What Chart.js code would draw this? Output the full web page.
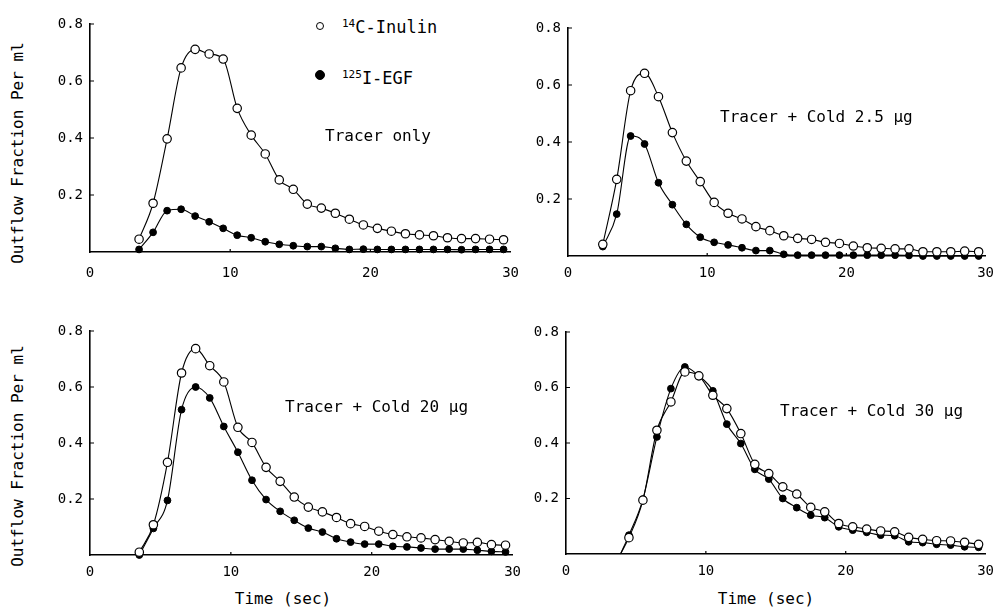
<!DOCTYPE html>
<html><head><meta charset="utf-8">
<script src="https://cdn.jsdelivr.net/npm/chart.js@4.4.0/dist/chart.umd.min.js"></script>
<style>
body{margin:0;background:#fff;width:995px;height:614px;position:relative;overflow:hidden;font-family:"DejaVu Sans Mono",monospace;color:#000}
canvas{position:absolute}
.t{position:absolute;white-space:nowrap;font-size:16px;line-height:1}
.yt{position:absolute;white-space:nowrap;font-size:16px;line-height:1;transform:translate(-50%,-50%) rotate(-90deg)}
.mk{position:absolute;border-radius:50%;box-sizing:border-box;border:1.3px solid #000}
sup{font-size:11px;vertical-align:6px;line-height:0}
</style></head><body>

<div class="yt" style="left:18px;top:153px">Outflow Fraction Per ml</div>
<div class="yt" style="left:18px;top:456px">Outflow Fraction Per ml</div>
<div class="t" style="left:283px;top:599px;transform:translate(-50%,-50%)">Time (sec)</div>
<div class="t" style="left:766px;top:599px;transform:translate(-50%,-50%)">Time (sec)</div>

<div class="mk" style="left:316px;top:22px;width:8px;height:8px;background:#fff"></div>
<div class="t" style="left:342px;top:19px;font-size:17px"><sup>14</sup>C-Inulin</div>
<div class="mk" style="left:315px;top:70px;width:10px;height:10px;background:#000"></div>
<div class="t" style="left:342px;top:70px;font-size:17px"><sup>125</sup>I-EGF</div>

<script>
// time points (sec)
var times1 = [3.5,4.5,5.5,6.5,7.5,8.5,9.5,10.5,11.5,12.5,13.5,14.5,15.5,16.5,17.5,18.5,19.5,20.5,21.5,22.5,23.5,24.5,25.5,26.5,27.5,28.5,29.5];
var times2 = [2.5,3.5,4.5,5.5,6.5,7.5,8.5,9.5,10.5,11.5,12.5,13.5,14.5,15.5,16.5,17.5,18.5,19.5,20.5,21.5,22.5,23.5,24.5,25.5,26.5,27.5,28.5,29.5];
var times3 = [3.5,4.5,5.5,6.5,7.5,8.5,9.5,10.5,11.5,12.5,13.5,14.5,15.5,16.5,17.5,18.5,19.5,20.5,21.5,22.5,23.5,24.5,25.5,26.5,27.5,28.5,29.5];
var times4 = [4.5,5.5,6.5,7.5,8.5,9.5,10.5,11.5,12.5,13.5,14.5,15.5,16.5,17.5,18.5,19.5,20.5,21.5,22.5,23.5,24.5,25.5,26.5,27.5,28.5,29.5];

// 14C-Inulin (open circles)
var inulin1 = [0.045,0.171,0.397,0.646,0.711,0.695,0.677,0.504,0.410,0.344,0.253,0.220,0.168,0.154,0.136,0.115,0.095,0.083,0.073,0.064,0.060,0.057,0.050,0.047,0.047,0.045,0.043];
var inulin2 = [0.041,0.269,0.580,0.641,0.559,0.433,0.333,0.261,0.188,0.150,0.130,0.103,0.089,0.071,0.062,0.058,0.048,0.044,0.035,0.029,0.027,0.025,0.025,0.015,0.015,0.015,0.017,0.015];
var inulin3 = [0.010,0.108,0.331,0.650,0.737,0.676,0.618,0.456,0.402,0.313,0.263,0.207,0.171,0.154,0.134,0.112,0.102,0.085,0.073,0.065,0.061,0.055,0.049,0.043,0.045,0.037,0.035];
var inulin4 = [0.059,0.194,0.446,0.548,0.656,0.642,0.572,0.524,0.434,0.323,0.290,0.242,0.216,0.168,0.152,0.110,0.098,0.090,0.083,0.080,0.060,0.053,0.048,0.047,0.042,0.035];

// 125I-EGF (filled circles)
var egf1 = [0.009,0.069,0.145,0.150,0.126,0.106,0.083,0.059,0.050,0.036,0.027,0.022,0.019,0.019,0.013,0.009,0.010,0.009,0.009,0.009,0.009,0.009,0.009,0.008,0.009,0.009,0.009];
var egf2 = [0.033,0.147,0.421,0.393,0.257,0.180,0.111,0.066,0.048,0.039,0.029,0.019,0.019,0.006,0.003,0.003,0.003,0.003,0.003,0.003,0.003,0.003,0.002,0.000,0.000,0.000,0.000,0.000];
var egf3 = [0.000,0.095,0.195,0.519,0.600,0.561,0.459,0.367,0.267,0.198,0.156,0.124,0.096,0.082,0.058,0.046,0.039,0.039,0.031,0.029,0.025,0.021,0.021,0.021,0.017,0.013,0.011];
var egf4 = [0.068,0.197,0.422,0.596,0.674,0.642,0.588,0.468,0.398,0.305,0.270,0.200,0.167,0.140,0.131,0.098,0.086,0.078,0.068,0.066,0.044,0.041,0.035,0.032,0.026,0.024];

// where the fitted curve leaves the time axis (only visible in the 30 ug panel)
var onset4 = 3.9;

var panelLabels = ['Tracer only', 'Tracer + Cold 2.5 \u00b5g', 'Tracer + Cold 20 \u00b5g', 'Tracer + Cold 30 \u00b5g'];
var xTicks = [0, 10, 20, 30];
var yTicks = [0.2, 0.4, 0.6, 0.8];

var FONT = '"DejaVu Sans Mono", monospace';

// chart area of each panel in page pixels, plus where its label sits
var panels = [
  {l:90,  r:517, t:24,  b:252, times:times1, inulin:inulin1, egf:egf1, onset:null,   xpad:13, lx:325, ly:136},
  {l:568, r:988, t:28,  b:256, times:times2, inulin:inulin2, egf:egf2, onset:null,   xpad:9,  lx:720, ly:117},
  {l:90,  r:515, t:331, b:555, times:times3, inulin:inulin3, egf:egf3, onset:null,   xpad:9,  lx:285, ly:407},
  {l:566, r:988, t:332, b:554, times:times4, inulin:inulin4, egf:egf4, onset:onset4, xpad:9,  lx:780, ly:411}
];

// short tick marks drawn inside the axes
var innerTicks = {
  id: 'innerTicks',
  afterDraw: function(chart) {
    var ctx = chart.ctx, a = chart.chartArea;
    var xs = chart.scales.x, ys = chart.scales.y;
    ctx.save();
    ctx.strokeStyle = '#000';
    ctx.lineWidth = 1.2;
    ctx.beginPath();
    yTicks.forEach(function(v) {
      var y = ys.getPixelForValue(v);
      ctx.moveTo(a.left, y); ctx.lineTo(a.left + 4, y);
    });
    xTicks.slice(1, 3).forEach(function(v) {
      var x = xs.getPixelForValue(v);
      ctx.moveTo(x, a.bottom); ctx.lineTo(x, a.bottom - 3);
    });
    ctx.stroke();
    ctx.restore();
  }
};

function pts(xs, ys, onset) {
  var out = xs.map(function(x, i) { return {x: x, y: ys[i]}; });
  if (onset !== null) out.unshift({x: onset, y: 0, curveOnly: true});
  return out;
}

function radius(r) {
  return function(c) { return c.raw && c.raw.curveOnly ? 0 : r; };
}

panels.forEach(function(p, k) {
  var cv = document.createElement('canvas');
  var w = 90 + (p.r - p.l) + 15, h = 24 + (p.b - p.t) + 30;
  cv.width = w; cv.height = h;
  cv.style.left = (p.l - 90) + 'px';
  cv.style.top = (p.t - 24) + 'px';
  document.body.appendChild(cv);

  var lab = document.createElement('div');
  lab.className = 't';
  lab.style.left = p.lx + 'px';
  lab.style.top = p.ly + 'px';
  lab.style.transform = 'translateY(-50%)';
  lab.textContent = panelLabels[k];
  document.body.appendChild(lab);

  new Chart(cv, {
    type: 'line',
    data: {
      datasets: [{
        label: '14C-Inulin',
        data: pts(p.times, p.inulin, p.onset),
        borderColor: '#000', borderWidth: 1.1,
        pointRadius: radius(4.2), pointBackgroundColor: '#fff',
        pointBorderColor: '#000', pointBorderWidth: 1.2,
        cubicInterpolationMode: 'monotone', clip: false
      }, {
        label: '125I-EGF',
        data: pts(p.times, p.egf, p.onset),
        borderColor: '#000', borderWidth: 1.1,
        pointRadius: radius(3.4), pointBackgroundColor: '#000',
        pointBorderColor: '#000', pointBorderWidth: 1,
        cubicInterpolationMode: 'monotone', clip: false
      }]
    },
    options: {
      responsive: false,
      animation: false,
      devicePixelRatio: 1,
      layout: {padding: {left: 0, top: 24, right: 15, bottom: 0}},
      plugins: {legend: {display: false}, tooltip: {enabled: false}},
      scales: {
        x: {
          type: 'linear', min: 0, max: 30,
          afterBuildTicks: function(s) { s.ticks = xTicks.map(function(v) { return {value: v}; }); },
          afterFit: function(s) { s.height = 30; },
          grid: {display: false, drawTicks: false},
          border: {display: true, color: '#000', width: 1.6},
          ticks: {color: '#000', font: {family: FONT, size: 14}, padding: p.xpad, maxRotation: 0,
                  callback: function(v) { return String(v); }}
        },
        y: {
          type: 'linear', min: 0, max: 0.8,
          afterBuildTicks: function(s) { s.ticks = yTicks.map(function(v) { return {value: v}; }); },
          afterFit: function(s) { s.width = 90; },
          grid: {display: false, drawTicks: false},
          border: {display: true, color: '#000', width: 1.6},
          ticks: {color: '#000', font: {family: FONT, size: 14}, padding: 7,
                  callback: function(v) { return v.toFixed(1); }}
        }
      }
    },
    plugins: [innerTicks]
  });
});
</script>
</body></html>
